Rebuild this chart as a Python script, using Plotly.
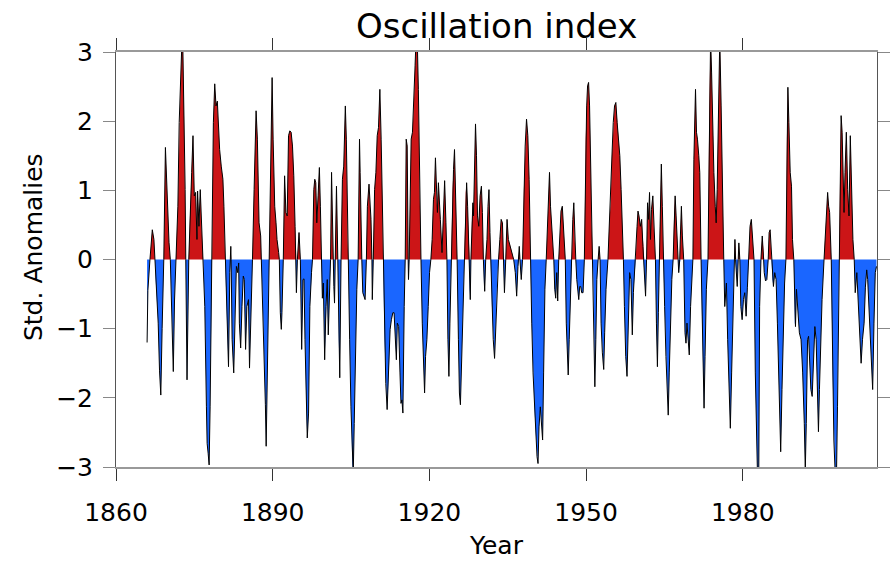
import plotly.graph_objects as go

# Oscillation index, standardized anomalies (time in decimal years)
years = [
    1865.95, 1866.10, 1866.50, 1866.95, 1867.26, 1867.45, 1867.60, 1868.08, 1868.33, 1868.58,
    1868.83, 1869.15, 1869.46, 1869.65, 1869.90, 1870.15, 1870.40, 1870.72, 1870.97, 1871.20,
    1871.47, 1871.85, 1872.10, 1872.35, 1872.60, 1872.80, 1873.00, 1873.24, 1873.36, 1873.60,
    1873.93, 1874.18, 1874.49, 1874.74, 1874.99, 1875.25, 1875.50, 1875.62, 1875.88, 1876.13,
    1876.38, 1876.69, 1877.00, 1877.31, 1877.45, 1877.64, 1877.83, 1878.02, 1878.27, 1878.39,
    1878.64, 1878.90, 1879.15, 1879.40, 1879.52, 1879.84, 1880.15, 1880.47, 1880.66, 1880.91,
    1881.16, 1881.41, 1881.54, 1881.79, 1881.91, 1881.98, 1882.04, 1882.23, 1882.54, 1882.80,
    1883.05, 1883.30, 1883.49, 1883.62, 1883.87, 1884.12, 1884.37, 1884.56, 1884.81, 1885.06,
    1885.37, 1885.56, 1885.81, 1886.13, 1886.44, 1886.82, 1887.07, 1887.39, 1887.70, 1887.83,
    1888.20, 1888.45, 1888.60, 1888.75, 1889.00, 1889.32, 1889.70, 1889.89, 1890.08, 1890.39,
    1890.64, 1890.83, 1891.14, 1891.27, 1891.46, 1891.65, 1891.77, 1892.03, 1892.28, 1892.53,
    1892.78, 1893.03, 1893.28, 1893.53, 1893.79, 1894.04, 1894.29, 1894.42, 1894.54, 1894.73,
    1895.04, 1895.30, 1895.55, 1895.80, 1896.00, 1896.18, 1896.43, 1896.62, 1896.87, 1897.12,
    1897.43, 1897.62, 1897.87, 1898.06, 1898.25, 1898.44, 1898.69, 1898.94, 1899.13, 1899.32,
    1899.51, 1899.70, 1899.95, 1900.20, 1900.45, 1900.64, 1900.89, 1901.08, 1901.27, 1901.46,
    1901.58, 1901.71, 1901.84, 1901.96, 1902.21, 1902.47, 1902.65, 1902.84, 1903.09, 1903.35,
    1903.60, 1903.91, 1904.10, 1904.35, 1904.48, 1904.73, 1904.98, 1905.23, 1905.42, 1905.61,
    1905.86, 1906.11, 1906.36, 1906.62, 1906.74, 1906.93, 1907.06, 1907.25, 1907.50, 1907.69,
    1907.94, 1908.13, 1908.44, 1908.63, 1908.82, 1909.00, 1909.07, 1909.26, 1909.51, 1909.76,
    1910.01, 1910.26, 1910.52, 1910.77, 1911.02, 1911.14, 1911.40, 1911.65, 1911.91, 1912.23,
    1912.48, 1912.73, 1913.00, 1913.24, 1913.49, 1913.68, 1913.86, 1914.12, 1914.37, 1914.56,
    1914.74, 1914.93, 1915.18, 1915.37, 1915.56, 1915.75, 1915.94, 1916.00, 1916.13, 1916.51,
    1916.76, 1917.01, 1917.26, 1917.45, 1917.70, 1917.89, 1918.14, 1918.39, 1918.64, 1918.90,
    1919.08, 1919.27, 1919.52, 1919.78, 1920.03, 1920.28, 1920.53, 1920.78, 1920.97, 1921.16,
    1921.35, 1921.54, 1921.73, 1921.91, 1922.10, 1922.42, 1922.67, 1922.92, 1923.17, 1923.36,
    1923.55, 1923.74, 1923.93, 1924.18, 1924.43, 1924.62, 1924.81, 1925.00, 1925.18, 1925.31,
    1925.56, 1925.75, 1925.94, 1926.19, 1926.44, 1926.69, 1926.95, 1927.13, 1927.32, 1927.57,
    1927.70, 1927.83, 1927.95, 1928.14, 1928.33, 1928.45, 1928.64, 1928.83, 1929.02, 1929.21,
    1929.46, 1929.71, 1929.96, 1930.15, 1930.34, 1930.47, 1930.59, 1930.78, 1931.03, 1931.22,
    1931.41, 1931.60, 1931.73, 1931.98, 1932.23, 1932.48, 1932.73, 1932.98, 1933.24, 1933.49,
    1933.74, 1933.99, 1934.18, 1934.37, 1934.62, 1934.87, 1935.12, 1935.51, 1935.83, 1936.14,
    1936.45, 1936.71, 1936.96, 1937.08, 1937.21, 1937.34, 1937.59, 1937.84, 1938.09, 1938.34,
    1938.60, 1938.85, 1939.10, 1939.35, 1939.60, 1939.85, 1940.11, 1940.36, 1940.61, 1940.80,
    1940.99, 1941.24, 1941.49, 1941.68, 1941.87, 1942.12, 1942.37, 1942.62, 1942.81, 1943.00,
    1943.19, 1943.44, 1943.63, 1943.82, 1944.00, 1944.19, 1944.38, 1944.57, 1944.76, 1944.95,
    1945.20, 1945.45, 1945.64, 1945.83, 1946.02, 1946.21, 1946.40, 1946.58, 1946.77, 1947.02,
    1947.28, 1947.46, 1947.65, 1947.84, 1948.03, 1948.22, 1948.41, 1948.60, 1948.78, 1948.97,
    1949.16, 1949.42, 1949.67, 1949.92, 1950.11, 1950.29, 1950.48, 1950.67, 1950.86, 1951.05,
    1951.30, 1951.49, 1951.68, 1951.87, 1952.06, 1952.31, 1952.50, 1952.68, 1952.87, 1953.12,
    1953.38, 1953.56, 1953.82, 1954.19, 1954.45, 1954.70, 1954.95, 1955.20, 1955.45, 1955.70,
    1955.95, 1956.21, 1956.46, 1956.71, 1956.96, 1957.15, 1957.34, 1957.59, 1957.84, 1958.09,
    1958.34, 1958.59, 1958.85, 1959.06, 1959.38, 1959.50, 1959.76, 1959.94, 1960.13, 1960.39,
    1960.64, 1960.89, 1961.01, 1961.14, 1961.39, 1961.58, 1961.77, 1961.96, 1962.15, 1962.33,
    1962.52, 1962.78, 1962.96, 1963.28, 1963.47, 1963.66, 1963.84, 1964.03, 1964.22, 1964.41,
    1964.60, 1964.79, 1965.04, 1965.29, 1965.54, 1965.73, 1965.92, 1966.17, 1966.42, 1966.67,
    1966.86, 1967.05, 1967.24, 1967.43, 1967.62, 1967.74, 1967.93, 1968.06, 1968.25, 1968.44,
    1968.69, 1968.94, 1969.13, 1969.32, 1969.57, 1969.76, 1970.01, 1970.26, 1970.45, 1970.64,
    1970.83, 1970.95, 1971.14, 1971.33, 1971.58, 1971.77, 1972.02, 1972.21, 1972.40, 1972.59,
    1972.78, 1973.03, 1973.34, 1973.59, 1973.84, 1974.03, 1974.22, 1974.47, 1974.73, 1974.91,
    1975.10, 1975.35, 1975.60, 1975.86, 1976.11, 1976.36, 1976.55, 1976.74, 1976.87, 1977.11,
    1977.37, 1977.62, 1977.87, 1978.12, 1978.37, 1978.50, 1978.62, 1978.75, 1978.94, 1979.13,
    1979.25, 1979.44, 1979.63, 1979.88, 1980.13, 1980.38, 1980.64, 1980.89, 1981.14, 1981.39,
    1981.64, 1981.89, 1982.15, 1982.40, 1982.65, 1982.90, 1983.05, 1983.23, 1983.48, 1983.73,
    1983.99, 1984.11, 1984.36, 1984.61, 1984.87, 1985.05, 1985.24, 1985.50, 1985.68, 1985.87,
    1986.12, 1986.38, 1986.63, 1986.88, 1987.13, 1987.26, 1987.51, 1987.76, 1988.01, 1988.26,
    1988.45, 1988.64, 1988.83, 1989.08, 1989.33, 1989.52, 1989.77, 1989.96, 1990.09, 1990.28,
    1990.53, 1990.84, 1991.16, 1991.47, 1991.78, 1991.97, 1992.16, 1992.41, 1992.60, 1992.79,
    1993.04, 1993.29, 1993.54, 1993.80, 1994.05, 1994.30, 1994.49, 1994.68, 1994.93, 1995.18,
    1995.56, 1995.75, 1996.06, 1996.25, 1996.44, 1996.63, 1996.94, 1997.19, 1997.44, 1997.70,
    1997.95, 1998.14, 1998.33, 1998.45, 1998.64, 1998.83, 1999.02, 1999.21, 1999.39, 1999.58,
    1999.83, 2000.09, 2000.34, 2000.59, 2000.84, 2001.09, 2001.34, 2001.53, 2001.84, 2002.16,
    2002.48, 2002.66, 2002.92, 2003.23, 2003.48, 2003.73, 2003.92, 2004.24, 2004.61, 2004.87,
    2005.12, 2005.37, 2005.60,
]

anomalies = [
    -1.20, -0.45, 0.00, 0.43, 0.29, 0.00, -0.30, -0.92, -1.60, -1.96,
    -1.00, 0.00, 1.62, 1.21, 0.63, 0.25, 0.00, -0.80, -1.62, -0.60,
    0.00, 0.77, 1.98, 2.51, 3.10, 3.05, 2.22, 1.01, 0.00, -1.74,
    0.00, 0.68, 1.26, 1.79, 0.92, 0.97, 0.29, 0.99, 0.48, 1.01,
    0.48, 0.00, -0.68, -2.13, -2.66, -2.80, -2.97, -2.13, -0.19, 0.00,
    1.98, 2.54, 2.22, 2.29, 2.08, 1.59, 1.35, 1.16, 0.77, 0.00,
    -0.68, -1.16, -1.55, -0.19, 0.00, 0.19, 0.00, -1.16, -1.64, -0.68,
    -0.10, -0.19, -0.05, -0.92, -1.28, -0.68, -0.24, -0.29, -1.30, -0.68,
    -0.58, -1.57, -0.68, 0.00, 1.01, 2.15, 1.74, 0.53, 0.34, 0.00,
    -0.90, -1.50, -2.10, -2.70, -1.50, 0.00, 1.74, 2.63, 1.74, 0.77,
    0.53, 0.29, 0.10, 0.00, -0.77, -1.01, -0.77, 0.00, 1.21, 0.68,
    0.63, 1.79, 1.86, 1.84, 1.64, 1.21, 0.48, 0.00, -0.48, 0.00,
    0.39, 0.00, -1.30, -0.29, -0.28, -1.16, -2.13, -2.58, -2.22, -0.68,
    -0.19, 0.00, 1.01, 1.16, 1.11, 0.53, 0.92, 1.33, 0.77, 0.00,
    -0.56, -0.34, -1.45, -0.68, -0.29, -1.09, -0.58, 0.00, 1.26, 0.29,
    0.00, -0.39, -0.63, 0.00, 1.06, 0.00, -1.16, -1.71, 0.00, 1.16,
    1.35, 2.22, 1.74, 0.29, 0.00, -1.16, -2.13, -2.95, -3.10, -2.37,
    -1.16, -0.43, 0.00, 1.74, 1.26, 0.29, 0.00, -0.48, -0.53, -0.58,
    0.00, 0.77, 1.09, 0.77, 0.58, 0.00, -0.58, 0.00, 1.01, 1.26,
    1.79, 1.91, 2.46, 1.74, 0.77, 0.00, -1.16, -1.79, -2.17, -1.64,
    -1.01, -0.87, -0.77, -0.77, -1.16, -1.45, -0.92, -0.97, -1.64, -2.08,
    -2.03, -2.22, -0.68, 0.00, 1.74, 1.64, 0.00, -0.29, 0.00, 1.74,
    1.84, 2.22, 2.80, 3.20, 3.10, 2.46, 1.01, 0.00, -0.92, -1.64,
    -1.93, -1.40, -1.16, -0.68, -0.19, 0.00, 0.29, 0.87, 0.97, 1.47,
    0.92, 0.68, 1.11, 0.72, 0.58, 0.10, 0.68, 1.14, 0.53, 0.00,
    -1.16, -1.69, -0.92, 0.00, 1.01, 1.30, 1.59, 1.06, 0.29, 0.00,
    -1.16, -1.93, -2.10, -1.40, -0.68, 0.00, 0.97, 1.11, 0.77, 0.00,
    -0.43, -0.58, 0.00, 0.53, 0.82, 0.63, 1.26, 1.96, 1.50, 0.63,
    0.48, 0.92, 1.06, 0.68, 0.00, -0.39, -0.46, 0.00, 0.29, 0.77,
    1.01, 0.39, 0.00, -0.68, -1.16, -1.43, -0.92, -0.29, 0.00, 0.29,
    0.58, 0.53, 0.00, -0.48, 0.00, 0.58, 0.29, 0.19, 0.10, 0.00,
    -0.19, -0.53, -0.10, 0.00, 0.19, 0.00, -0.29, 0.00, 1.01, 1.64,
    2.03, 1.79, 1.16, 0.00, -0.92, -1.64, -2.13, -2.51, -2.85, -2.95,
    -2.42, -2.13, -2.37, -2.61, -1.64, -0.43, 0.00, 0.48, 1.01, 1.26,
    0.77, 0.48, 0.29, 0.00, -0.43, -0.56, -0.19, -0.60, 0.00, 0.29,
    0.70, 0.77, 0.48, 0.29, 0.00, -0.92, -1.45, -1.67, -1.16, -0.43,
    0.00, 0.58, 0.82, 0.29, 0.00, -0.29, -0.48, -0.58, -0.39, -0.39,
    -0.48, -0.48, 0.00, 1.74, 2.22, 2.51, 2.56, 2.22, 1.50, 0.53,
    0.00, -0.68, -1.84, -1.16, -0.29, 0.00, 0.19, 0.00, -0.92, -1.35,
    -1.59, -1.06, -0.43, 0.00, 0.53, 0.82, 1.50, 1.98, 2.22, 2.27,
    1.98, 1.74, 1.50, 1.01, 0.48, 0.00, -0.68, -1.40, -1.69, -1.06,
    -0.19, -0.29, -1.09, -0.48, -0.10, 0.00, 0.48, 0.70, 0.63, 0.48,
    0.58, 0.19, 0.00, -0.19, -0.53, 0.00, 0.82, 0.58, 0.97, 0.29,
    0.72, 0.92, 0.48, 0.00, -0.92, -1.55, -0.77, 0.00, 0.77, 1.38,
    0.77, 0.00, -0.68, -1.40, -1.98, -2.25, -1.64, -0.92, -0.29, 0.00,
    0.68, 0.92, 0.63, 0.19, 0.00, -0.19, 0.00, 0.34, 0.77, 0.34,
    0.00, -1.06, -1.21, -0.92, -1.16, -1.38, -0.68, -0.19, 0.00, 1.45,
    1.98, 2.46, 1.84, 1.74, 1.50, 1.26, 0.00, -0.92, -1.64, -2.15,
    -1.40, -0.43, 0.00, 2.22, 3.20, 2.71, 1.98, 1.26, 0.77, 0.53,
    1.01, 2.46, 3.20, 2.22, 0.77, 0.00, -0.68, -0.43, -0.34, -1.16,
    -1.88, -2.44, -1.64, -0.68, 0.00, 0.29, 0.00, -0.19, -0.39, 0.00,
    0.24, 0.00, -0.68, -0.87, -0.58, -0.48, -0.82, -0.40, 0.00, 0.48,
    0.58, 0.29, 0.00, -1.64, -3.10, -3.40, -3.30, -0.68, 0.00, 0.34,
    0.00, -0.19, -0.31, -0.29, 0.00, 0.39, 0.43, 0.00, -0.29, -0.39,
    -0.19, -0.29, -0.92, -1.64, -2.61, -2.78, -1.88, -0.92, -0.34, 0.00,
    1.74, 2.49, 1.98, 1.26, 1.06, 0.29, 0.00, -0.92, -0.97, -0.43,
    -0.77, -1.06, -1.16, -1.64, -2.37, -3.05, -2.37, -1.16, -1.11, -1.55,
    -1.88, -1.98, -1.40, -0.97, -1.16, -1.88, -2.49, -1.88, -1.16, -0.58,
    0.00, 0.29, 0.77, 0.97, 0.77, 0.68, 0.00, -1.64, -2.61, -3.10,
    -3.10, -2.13, -0.68, 0.00, 1.26, 2.08, 1.84, 1.35, 0.68, 1.26,
    1.84, 1.01, 0.63, 1.79, 1.01, 0.29, 0.00, -0.48, -0.19, -0.68,
    -1.35, -1.50, -1.16, -0.92, -0.40, -0.15, -0.29, -0.92, -1.55, -1.88,
    -0.92, -0.19, -0.10,
]

year_ticks = [1860, 1890, 1920, 1950, 1980]
value_ticks = [-3, -2, -1, 0, 1, 2, 3]
value_labels = ["\u22123", "\u22122", "\u22121", "0", "1", "2", "3"]

RED = "#CC1517"
BLUE = "#1A66FF"
FONT = "DejaVu Sans"

# split the series at zero so each side gets its own fill colour
positive = [max(v, 0.0) for v in anomalies]
negative = [min(v, 0.0) for v in anomalies]

fig = go.Figure()
fig.add_trace(go.Scatter(x=years, y=positive, mode="lines", fill="tozeroy",
                         fillcolor=RED, line=dict(width=0, color=RED),
                         hoverinfo="skip", showlegend=False))
fig.add_trace(go.Scatter(x=years, y=negative, mode="lines", fill="tozeroy",
                         fillcolor=BLUE, line=dict(width=0, color=BLUE),
                         hoverinfo="skip", showlegend=False))
fig.add_trace(go.Scatter(x=years, y=anomalies, mode="lines",
                         line=dict(color="black", width=1),
                         showlegend=False))

fig.update_layout(
    width=895, height=562,
    margin=dict(l=116, r=5, t=52, b=95),
    paper_bgcolor="white", plot_bgcolor="white",
    font=dict(family=FONT, color="black"),
    xaxis=dict(
        range=[1860, 2005.7], tickvals=year_ticks,
        ticks="outside", ticklen=12, tickwidth=1, tickcolor="#333",
        showline=True, linecolor="#999", linewidth=2, mirror="ticks",
        showgrid=False, zeroline=False,
        tickfont=dict(size=25, family=FONT, color="black"),
        ticklabelstandoff=10,
    ),
    yaxis=dict(
        range=[-3, 3], tickvals=value_ticks, ticktext=value_labels,
        ticks="outside", ticklen=12, tickwidth=1, tickcolor="#888",
        showline=True, linecolor="#555", linewidth=1, mirror="ticks",
        showgrid=False, zeroline=False,
        tickfont=dict(size=25, family=FONT, color="black"),
        ticklabelstandoff=5,
    ),
    annotations=[
        dict(text="Oscillation index", xref="paper", yref="paper",
             x=0.5, y=1, yanchor="bottom", xanchor="center", yshift=4,
             showarrow=False, font=dict(size=34, family=FONT, color="black")),
        dict(text="Year", xref="paper", yref="paper",
             x=0.5, y=0, yanchor="top", xanchor="center", yshift=-62,
             showarrow=False, font=dict(size=25, family=FONT, color="black")),
        dict(text="Std. Anomalies", xref="paper", yref="paper",
             x=0, y=0.53, xanchor="center", yanchor="middle", xshift=-83,
             textangle=-90, showarrow=False,
             font=dict(size=25, family=FONT, color="black")),
    ],
)

fig.write_html("out.html")
